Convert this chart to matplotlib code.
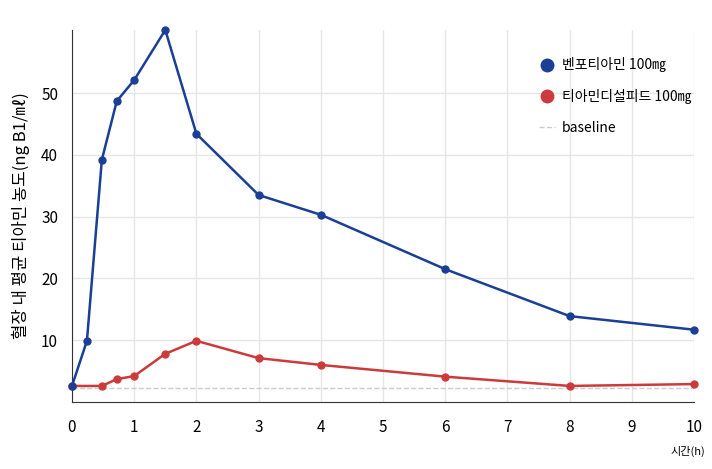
import matplotlib
matplotlib.use('Agg')
import matplotlib.pyplot as plt
from matplotlib.lines import Line2D

plt.rcParams['font.family'] = ['Noto Sans CJK KR', 'DejaVu Sans']

blue_x = [0, 0.24, 0.48, 0.72, 1, 1.5, 2, 3, 4, 6, 8, 10]
blue_y = [2.6, 9.9, 39.2, 48.7, 52.1, 60.2, 43.4, 33.5, 30.3, 21.5, 13.9, 11.7]
red_x = [0, 0.48, 0.72, 1, 1.5, 2, 3, 4, 6, 8, 10]
red_y = [2.6, 2.6, 3.7, 4.2, 7.8, 9.9, 7.1, 6.0, 4.1, 2.6, 2.9]
baseline = 2.3

fig = plt.figure(figsize=(7.12, 4.69), dpi=100)
ax = fig.add_axes([72/712, 1-402/469, 622/712, 372/469])

ax.axhline(baseline, color='#cccccc', ls='--', lw=1, zorder=1)
ax.plot(blue_x, blue_y, color='#1a3f94', lw=1.8, marker='o', ms=5, zorder=3, clip_on=False)
ax.plot(red_x, red_y, color='#cc3b3b', lw=1.8, marker='o', ms=5, zorder=2, clip_on=False)

ax.set_xlim(0, 10)
ax.set_ylim(0, 60.2)
ax.set_xticks(range(0, 11))
ax.set_yticks([10, 20, 30, 40, 50])
ax.grid(color='#e6e6e6', lw=1)
ax.set_axisbelow(True)
for s in ['top', 'right']:
    ax.spines[s].set_visible(False)
for s in ['left', 'bottom']:
    ax.spines[s].set_color('#333333')
ax.tick_params(length=0, labelsize=11)
ax.tick_params(axis='x', pad=12)
ax.tick_params(axis='y', pad=10)
for lbl in ax.get_xticklabels() + ax.get_yticklabels():
    lbl.set_fontweight('medium')
ax.set_ylabel('혈장 내 평균 티아민 농도(ng B1/㎖)', fontsize=12, fontweight='medium', labelpad=8)
fig.text(0.99, 0.03, '시간(h)', ha='right', fontsize=8)

hs = [Line2D([], [], color='#1a3f94', marker='o', ls='', ms=9),
      Line2D([], [], color='#cc3b3b', marker='o', ls='', ms=9),
      Line2D([], [], color='#cccccc', ls='--', lw=1)]
leg = ax.legend(hs, ['벤포티아민 100㎎', '티아민디설피드 100㎎', 'baseline'],
                loc='upper left', bbox_to_anchor=(0.73, 0.96), frameon=False,
                fontsize=10, handlelength=1.2, labelspacing=1.2, handletextpad=0.5)
for t in leg.get_texts():
    t.set_fontweight('medium')

fig.savefig('out.png', dpi=100)
